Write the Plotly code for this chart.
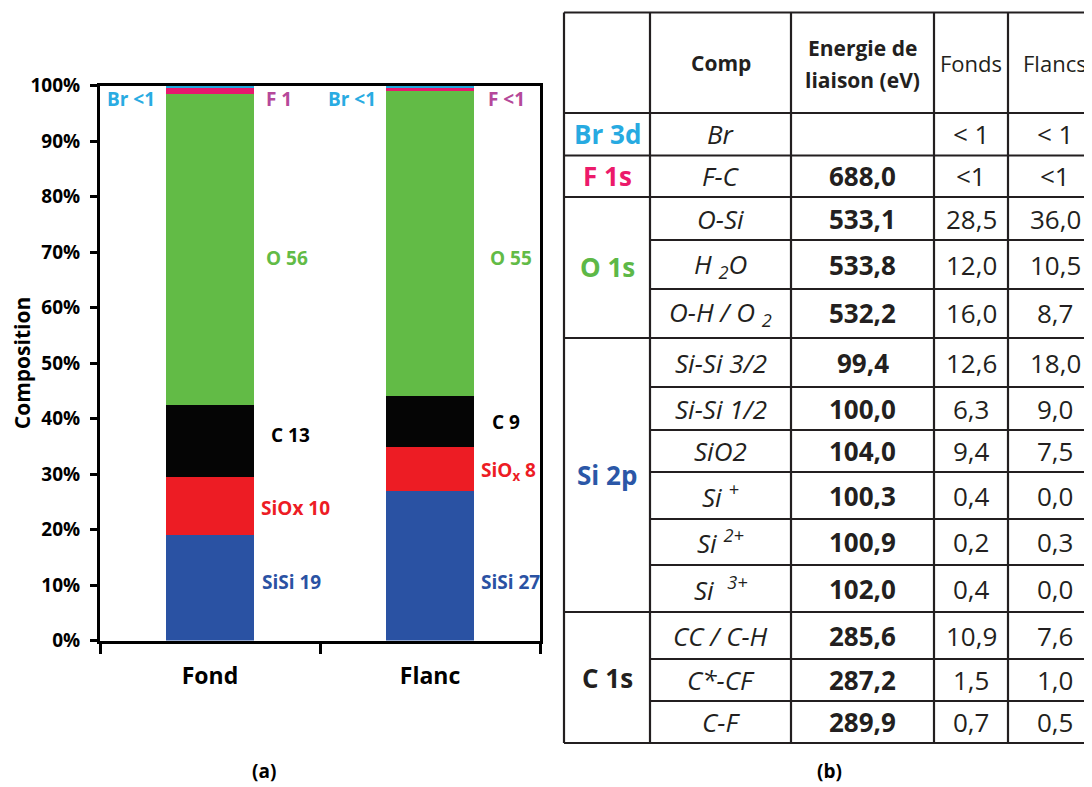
import plotly.graph_objects as go

W, H = 1092, 787
PAGE_OFFSET = 8  # default body margin of the html page

# ---------------- data: stacked bar chart (a) ----------------
categories = ["Fond", "Flanc"]
series_names = ["SiSi", "SiOx", "C", "O", "F", "Br"]
sisi_values = [19.0, 27.0]
siox_values = [10.5, 7.8]
carbon_values = [13.0, 9.2]
oxygen_values = [56.0, 55.0]
fluorine_values = [1.0, 0.6]
bromine_values = [0.5, 0.4]

fond_labels = ["SiSi 19", "SiOx 10", "C 13", "O 56", "F 1", "Br <1"]
flanc_labels = ["SiSi 27", "SiO<sub>x</sub> 8", "C 9", "O 55", "F <1", "Br <1"]

y_tick_values = [0, 10, 20, 30, 40, 50, 60, 70, 80, 90, 100]
y_tick_labels = ["0%", "10%", "20%", "30%", "40%", "50%", "60%", "70%", "80%", "90%", "100%"]

# ---------------- data: table (b) ----------------
header_cells = ["", "Comp", "Energie de|liaison (eV)", "Fonds", "Flancs"]
levels = ["Br 3d", "F 1s", "O 1s", "Si 2p", "C 1s"]
level_row_counts = [1, 1, 3, 6, 3]
components = ["Br", "F-C", "O-Si", "H <sub>2</sub>O", "O-H / O <sub>2</sub>",
              "Si-Si 3/2", "Si-Si 1/2", "SiO2", "Si <sup>+</sup>", "Si <sup>2+</sup>",
              "Si  <sup>3+</sup>", "CC / C-H", "C*-CF", "C-F"]
binding_energy = ["", "688,0", "533,1", "533,8", "532,2", "99,4", "100,0", "104,0",
                  "100,3", "100,9", "102,0", "285,6", "287,2", "289,9"]
fonds_pct = ["< 1", "<1", "28,5", "12,0", "16,0", "12,6", "6,3", "9,4",
             "0,4", "0,2", "0,4", "10,9", "1,5", "0,7"]
flancs_pct = ["< 1", "<1", "36,0", "10,5", "8,7", "18,0", "9,0", "7,5",
              "0,0", "0,3", "0,0", "7,6", "1,0", "0,5"]

# ---------------- styles / layout ----------------
FONT = "Open Sans"
series_colors = ["#2A52A3", "#ED1C24", "#050505", "#62BB46", "#E6196E", "#1FAAE0"]
label_colors = ["#2A52A3", "#ED1C24", "#000000", "#62BB46", "#B5489A", "#29ABE2"]
level_colors = ["#27AAE1", "#EC1A6A", "#5DB847", "#2B57A7", "#231F20"]

fond_label_y = [10.5, 23.8, 37.1, 69.0, 97.5, 97.5]
flanc_label_y = [10.5, 30.5, 39.3, 69.0, 97.5, 97.5]
fond_label_gap = [6, 5, 15, 10, 10, 9]
flanc_label_gap = [5, 5, 16, 14, 12, 8]
label_side = ["right", "right", "right", "right", "right", "left"]

# positions below are in screen pixels of the final picture
plot_left, plot_right, plot_top, plot_bottom = 100, 540, 85.5, 640.5
bar_width = 0.4
bar_half_px = bar_width * (plot_right - plot_left) / len(categories) / 2

col_edges = [564, 650, 791, 934, 1008, 1102]
row_edges = [12.5, 113, 155.5, 197, 240, 289, 338, 387, 430, 472, 519, 565, 612, 659, 701, 743]
table_line = dict(color="#231F20", width=2.2)
text_color = "#231F20"


def px(x):
    return (x - PAGE_OFFSET) / W


def py(y):
    return 1 - (y - PAGE_OFFSET) / H


fig = go.Figure()

all_series = [sisi_values, siox_values, carbon_values, oxygen_values, fluorine_values, bromine_values]
for name, vals, col in zip(series_names, all_series, series_colors):
    fig.add_trace(go.Bar(x=categories, y=vals, name=name, width=bar_width,
                         marker=dict(color=col, line=dict(width=0)), showlegend=False,
                         hoverinfo="skip"))

annotations = []
for ci, (labels, ys, gaps) in enumerate([(fond_labels, fond_label_y, fond_label_gap),
                                         (flanc_labels, flanc_label_y, flanc_label_gap)]):
    for lab, yv, gap, side, col in zip(labels, ys, gaps, label_side, label_colors):
        if side == "right":
            xanchor, shift = "left", bar_half_px + gap
        else:
            xanchor, shift = "right", -(bar_half_px + gap)
        annotations.append(dict(x=ci, y=yv, xref="x", yref="y", text=lab, showarrow=False,
                                xanchor=xanchor, yanchor="middle", xshift=shift,
                                font=dict(family=FONT, size=19, color=col, weight="bold")))

# captions
for cap, cx in (("(a)", 264), ("(b)", 829)):
    annotations.append(dict(x=px(cx), y=py(771), xref="paper", yref="paper", text=cap,
                            showarrow=False, xanchor="center", yanchor="middle",
                            font=dict(family=FONT, size=19, color="#000", weight="bold")))

# ---------------- table ----------------
shapes = []
for x in col_edges:
    shapes.append(dict(type="line", xref="paper", yref="paper", x0=px(x), x1=px(x),
                       y0=py(row_edges[0]), y1=py(row_edges[-1]), line=table_line))
group_bounds = [0]
for n in level_row_counts:
    group_bounds.append(group_bounds[-1] + n)
for i, y in enumerate(row_edges):
    full = i == 0 or (i - 1) in group_bounds
    x0 = col_edges[0] if full else col_edges[1]
    shapes.append(dict(type="line", xref="paper", yref="paper", x0=px(x0), x1=px(col_edges[-1]),
                       y0=py(y), y1=py(y), line=table_line))


def cell_center(c):
    return (col_edges[c] + col_edges[c + 1]) / 2


# header
hy = (row_edges[0] + row_edges[1]) / 2
for c, txt in enumerate(header_cells):
    if not txt:
        continue
    bold = c in (1, 2)
    lines = txt.split("|")
    offs = [0] if len(lines) == 1 else [-15, 17]
    for ln, off in zip(lines, offs):
        annotations.append(dict(x=px(cell_center(c)), y=py(hy + off), xref="paper", yref="paper",
                                text=ln, showarrow=False, xanchor="center", yanchor="middle",
                                font=dict(family=FONT, size=22 if not bold else 21, color=text_color,
                                          weight="bold" if bold else "normal")))

# level labels
for g, (lev, col) in enumerate(zip(levels, level_colors)):
    ytop = row_edges[1 + group_bounds[g]]
    ybot = row_edges[1 + group_bounds[g + 1]]
    annotations.append(dict(x=px(cell_center(0)), y=py((ytop + ybot) / 2), xref="paper", yref="paper",
                            text=lev, showarrow=False, xanchor="center", yanchor="middle",
                            font=dict(family=FONT, size=26, color=col, weight="bold")))

for r in range(len(components)):
    yc = py((row_edges[r + 1] + row_edges[r + 2]) / 2)
    cells = [("<i>" + components[r] + "</i>", "normal"), (binding_energy[r], "bold"),
             (fonds_pct[r], "normal"), (flancs_pct[r], "normal")]
    for c, (txt, wgt) in enumerate(cells, start=1):
        if not txt:
            continue
        annotations.append(dict(x=px(cell_center(c)), y=yc, xref="paper", yref="paper",
                                text=txt, showarrow=False, xanchor="center", yanchor="middle",
                                font=dict(family=FONT, size=26, color=text_color, weight=wgt)))

fig.update_layout(
    width=W, height=H, autosize=False,
    margin=dict(l=0, r=0, t=0, b=0, pad=0, autoexpand=False),
    paper_bgcolor="white", plot_bgcolor="white",
    barmode="stack",
    showlegend=False,
    annotations=annotations,
    shapes=shapes,
    xaxis=dict(domain=[px(plot_left), px(plot_right)], type="category", range=[-0.5, 1.5],
               automargin=False,
               tickson="boundaries", ticks="outside", ticklen=10, tickwidth=3, tickcolor="black",
               showline=True, linewidth=3, linecolor="black", mirror=True, showgrid=False,
               tickfont=dict(family=FONT, size=23, color="black", weight="bold"),
               ticklabelstandoff=13),
    yaxis=dict(domain=[py(plot_bottom), py(plot_top)], range=[0, 100],
               automargin=False,
               tickvals=y_tick_values, ticktext=y_tick_labels,
               ticks="outside", ticklen=7, tickwidth=3, tickcolor="black",
               showline=True, linewidth=3, linecolor="black", mirror=True,
               showgrid=False, zeroline=False,
               tickfont=dict(family=FONT, size=19, color="black", weight="bold"),
               ticklabelstandoff=6,
               title=dict(text="Composition", standoff=3,
                          font=dict(family=FONT, size=21, color="black", weight="bold"))),
)

fig.write_html("out.html")
